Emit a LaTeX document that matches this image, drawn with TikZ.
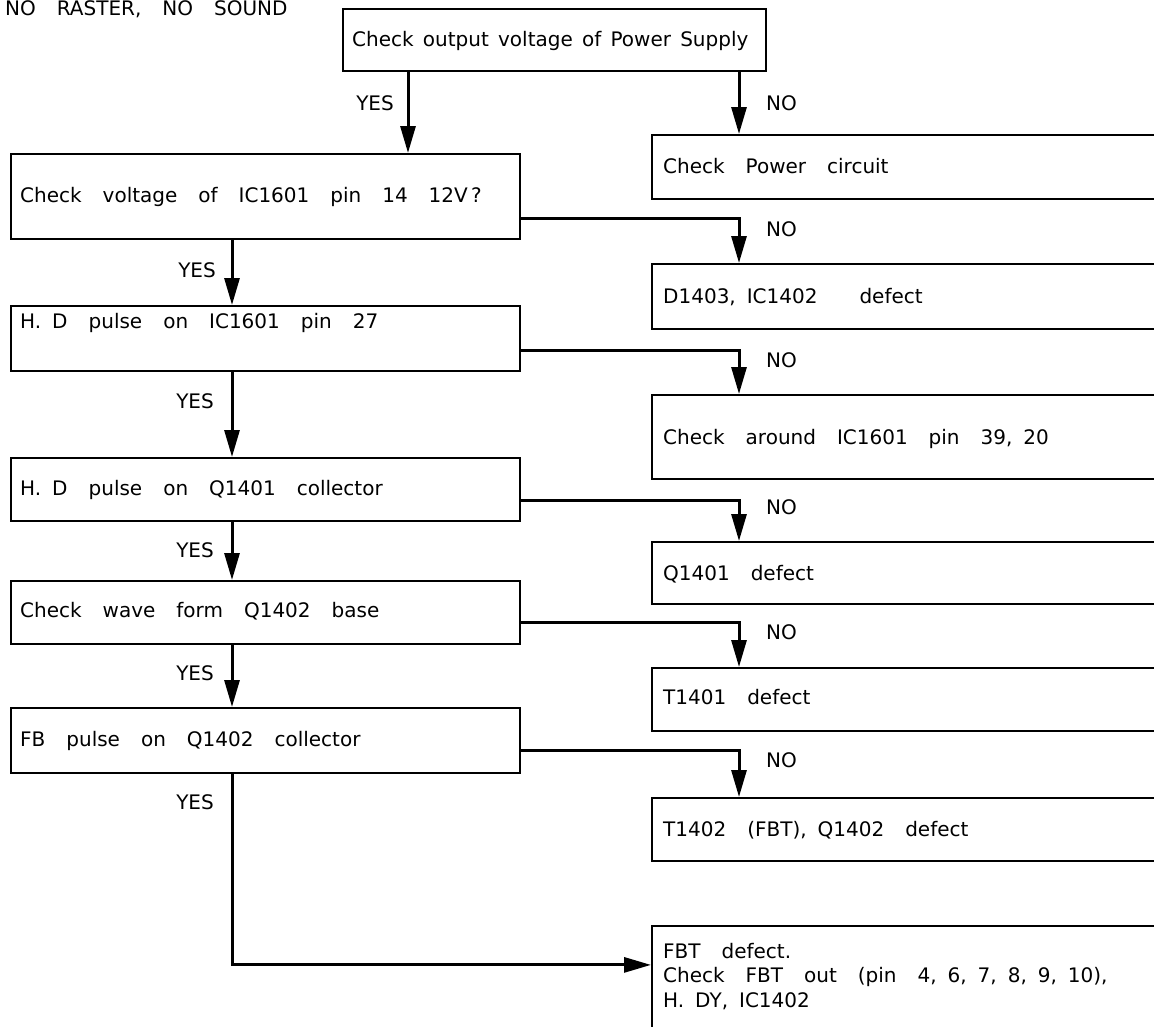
\documentclass[tikz,border=0pt]{standalone}
\usepackage{fontspec}
\setmainfont{DejaVu Sans}[WordSpace=3.3]
\newfontfamily\tightfont{DejaVu Sans}[WordSpace=1.45]
\usetikzlibrary{arrows.meta,calc}
\newcommand\nsp{\hspace{0.55em}}
\begin{document}
\begin{tikzpicture}[x=1pt,y=-1pt,
  box/.style={draw, line width=1.8pt, rectangle, anchor=north west, inner sep=0pt},
  txt/.style={anchor=west, inner sep=0pt, text height=14.5pt, text depth=0pt},
  yes/.style={anchor=east, inner sep=0pt, text height=14.5pt, text depth=0pt},
  no/.style={anchor=west, inner sep=0pt, text height=14.5pt, text depth=0pt},
  conn/.style={line width=3pt, -{Triangle[length=27pt,width=15pt]}},
  font=\fontsize{20pt}{24.5pt}\selectfont]
\useasboundingbox (0,0) rectangle (1154,1026);
\fill[white] (0,0) rectangle (1154,1026);
\clip (0,0) rectangle (1154,1026);

% title
\node[anchor=base west, inner sep=0pt] (T) at (5,15) {NO RASTER, NO SOUND};

% left column
\node[box, minimum width=423pt, minimum height=62pt] (A) at (342,8) {};
\node[txt, font=\fontsize{20pt}{24.5pt}\tightfont] (At) at (352,39) {Check output voltage of Power Supply};
\node[box, minimum width=509pt, minimum height=85pt] (B) at (10,153) {};
\node[txt] (Bt) at (20,195) {Check voltage of IC1601 pin 14 12V\,?};
\node[box, minimum width=509pt, minimum height=65pt] (C) at (10,305) {};
\node[txt] (Ct) at (20,321) {H.\nsp D pulse on IC1601 pin 27};
\node[box, minimum width=509pt, minimum height=63pt] (F) at (10,457) {};
\node[txt] (Ft) at (20,488) {H.\nsp D pulse on Q1401 collector};
\node[box, minimum width=509pt, minimum height=63pt] (H) at (10,580) {};
\node[txt] (Ht) at (20,610) {Check wave form Q1402 base};
\node[box, minimum width=509pt, minimum height=65pt] (J) at (10,707) {};
\node[txt] (Jt) at (20,739) {FB pulse on Q1402 collector};

% right column
\node[box, minimum width=520pt, minimum height=64pt] (P) at (651,134) {};
\node[txt] (Pt) at (663,166) {Check Power circuit};
\node[box, minimum width=520pt, minimum height=65pt] (D) at (651,263) {};
\node[txt] (Dt) at (663,296) {D1403,\nsp IC1402 \ defect};
\node[box, minimum width=520pt, minimum height=84pt] (E) at (651,394) {};
\node[txt] (Et) at (663,437) {Check around IC1601 pin 39,\nsp 20};
\node[box, minimum width=520pt, minimum height=62pt] (G) at (651,541) {};
\node[txt] (Gt) at (663,573) {Q1401 defect};
\node[box, minimum width=520pt, minimum height=63pt] (I) at (651,667) {};
\node[txt] (It) at (663,697) {T1401 defect};
\node[box, minimum width=520pt, minimum height=63pt] (K) at (651,797) {};
\node[txt] (Kt) at (663,829) {T1402 (FBT),\nsp Q1402 defect};
\node[box, minimum width=520pt, minimum height=115pt] (L) at (651,925) {};
\node[anchor=north west, inner sep=0pt, align=left] (Lt) at (663,943)
  {FBT defect.\\Check FBT out (pin 4,\nsp 6,\nsp 7,\nsp 8,\nsp 9,\nsp 10),\\H.\nsp DY,\nsp IC1402};

% connector entry points
\coordinate (pin) at ([xshift=88pt]P.north west);
\coordinate (din) at ([xshift=88pt]D.north west);
\coordinate (ein) at ([xshift=88pt]E.north west);
\coordinate (gin) at ([xshift=88pt]G.north west);
\coordinate (iin) at ([xshift=88pt]I.north west);
\coordinate (kin) at ([xshift=88pt]K.north west);
\coordinate (ayes) at ([xshift=66pt]A.south west);

% YES connectors
\draw[conn] (ayes) -- (ayes |- B.north);
\draw[conn] ([xshift=222pt]B.south west) -- ([xshift=222pt]C.north west);
\draw[conn] ([xshift=222pt]C.south west) -- ([xshift=222pt]F.north west);
\draw[conn] ([xshift=222pt]F.south west) -- ([xshift=222pt]H.north west);
\draw[conn] ([xshift=222pt]H.south west) -- ([xshift=222pt]J.north west);
\draw[conn] ([xshift=222pt]J.south west) |- ([yshift=18.5pt]L.west);

% NO connectors
\draw[conn] (A.south -| pin) -- (pin);
\draw[conn] ([yshift=-22.5pt]B.east) -| (din);
\draw[conn] ([yshift=-12.5pt]C.east) -| (ein);
\draw[conn] ([yshift=-11.5pt]F.east) -| (gin);
\draw[conn] ([yshift=-10.5pt]H.east) -| (iin);
\draw[conn] ([yshift=-10.5pt]J.east) -| (kin);

% labels
\node[yes] (y1) at (394,103) {YES};
\node[yes] (y2) at (216,270) {YES};
\node[yes] (y3) at (214,401) {YES};
\node[yes] (y4) at (214,550) {YES};
\node[yes] (y5) at (214,673) {YES};
\node[yes] (y6) at (214,802) {YES};
\node[no] (n1) at (766,103) {NO};
\node[no] (n2) at (766,229) {NO};
\node[no] (n3) at (766,360) {NO};
\node[no] (n4) at (766,507) {NO};
\node[no] (n5) at (766,632) {NO};
\node[no] (n6) at (766,760) {NO};
\end{tikzpicture}
\end{document}
